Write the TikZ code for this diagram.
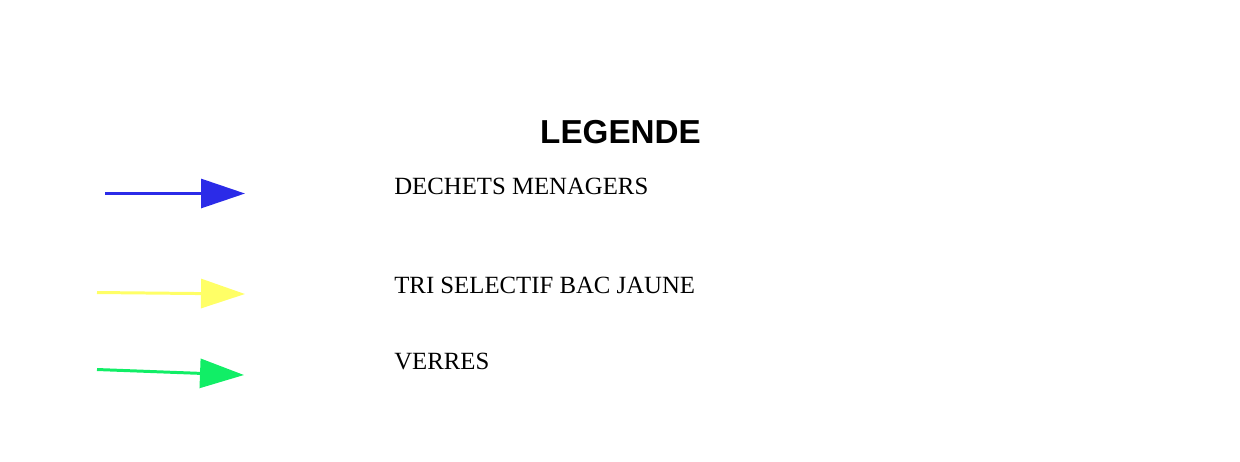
\documentclass[tikz,border=0pt]{standalone}
\usepackage{fontspec}
\setmainfont{Liberation Serif}
\newfontfamily\titlefont{Liberation Sans}
\usetikzlibrary{arrows.meta}
\definecolor{menagers}{RGB}{43,43,232}
\definecolor{bacjaune}{RGB}{255,255,102}
\definecolor{verres}{RGB}{17,238,102}
\tikzset{
  flux/.style={line width=1.7pt,-{Triangle[length=0.88cm,width=0.58cm]}},
  entry/.style={anchor=base west,inner sep=0pt,font=\fontsize{14.1}{16}\selectfont}
}
\begin{document}
\begin{tikzpicture}[x=0.02cm,y=-0.02cm]
\useasboundingbox (0,0) rectangle (1240,461);
\node[font=\titlefont\bfseries\fontsize{18.9}{22}\selectfont,inner sep=0pt] (titre) at (620.5,132) {LEGENDE};
\coordinate (m_1) at (105,193.5);
\coordinate (m_2) at (245,193.5);
\coordinate (j_1) at (97,292.5);
\coordinate (j_2) at (245,294);
\coordinate (v_1) at (97,369.5);
\coordinate (v_2) at (244,375);
\draw[flux,menagers] (m_1) to (m_2);
\draw[flux,bacjaune] (j_1) to (j_2);
\draw[flux,verres] (v_1) to (v_2);
\node[entry] (t_m) at (394,194) {DECHETS MENAGERS};
\node[entry] (t_j) at (394,293) {TRI SELECTIF BAC JAUNE};
\node[entry] (t_v) at (394,369) {VERRES};
\end{tikzpicture}
\end{document}
